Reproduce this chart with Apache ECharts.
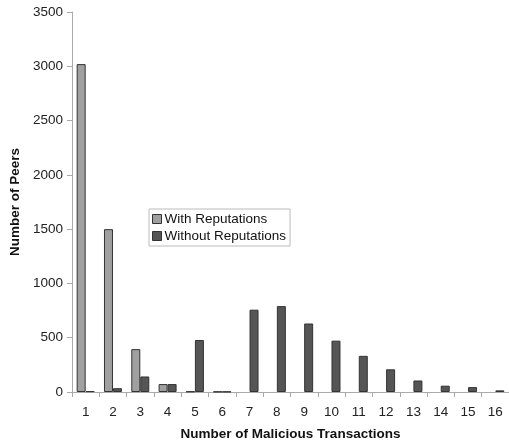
<!DOCTYPE html>
<html>
<head>
<meta charset="utf-8">
<script src="https://cdn.jsdelivr.net/npm/echarts@6/dist/echarts.min.js"></script>
<style>html,body{margin:0;padding:0;background:#fff;}#c{width:509px;height:446px;}</style>
</head>
<body>
<div id="c"></div>
<script>
const categories = ['1','2','3','4','5','6','7','8','9','10','11','12','13','14','15','16'];
const withReputations = [3020, 1500, 395, 73, 5, 3, 0, 0, 0, 0, 0, 0, 0, 0, 0, 0];
const withoutReputations = [8, 35, 143, 73, 479, 3, 758, 791, 631, 473, 333, 209, 106, 58, 45, 15];
const yTicks = { min: 0, max: 3500, interval: 500 };

const font = 'Liberation Sans, Arial, Helvetica, sans-serif';
const hideZero = arr => arr.map(v => (v === 0 ? null : v));
const chart = echarts.init(document.getElementById('c'), null, { renderer: 'canvas' });
chart.setOption({
  animation: false,
  backgroundColor: '#ffffff',
  textStyle: { fontFamily: font },
  grid: { left: 72, right: -4, top: 12, bottom: 50, containLabel: false },
  legend: {
    orient: 'vertical',
    left: 149, top: 209,
    padding: [3, 4, 3, 3],
    itemGap: 3,
    itemWidth: 9, itemHeight: 9,
    icon: 'rect',
    borderColor: '#bbbbbb', borderWidth: 1,
    backgroundColor: '#ffffff',
    textStyle: { fontFamily: font, fontSize: 13.5, color: '#111', padding: [0, 0, 0, -2] },
    itemStyle: { borderColor: '#333', borderWidth: 1 },
    data: ['With Reputations', 'Without Reputations']
  },
  xAxis: {
    type: 'category',
    data: categories,
    name: 'Number of Malicious Transactions',
    nameLocation: 'middle',
    nameGap: 35,
    nameTextStyle: { fontFamily: font, fontSize: 13.5, fontWeight: 'bold', color: '#111' },
    axisLine: { lineStyle: { color: '#aaaaaa', width: 1 } },
    axisTick: { show: true, alignWithLabel: false, length: 5, lineStyle: { color: '#aaaaaa' } },
    axisLabel: { fontFamily: font, fontSize: 13.5, color: '#222', margin: 13 },
    splitLine: { show: false }
  },
  yAxis: {
    type: 'value',
    min: yTicks.min, max: yTicks.max, interval: yTicks.interval,
    name: 'Number of Peers',
    nameLocation: 'middle',
    nameGap: 43,
    nameTextStyle: { fontFamily: font, fontSize: 13.5, fontWeight: 'bold', color: '#111' },
    axisLine: { show: true, lineStyle: { color: '#aaaaaa', width: 1 } },
    axisTick: { show: true, length: 5, lineStyle: { color: '#aaaaaa' } },
    axisLabel: { fontFamily: font, fontSize: 13.5, color: '#222', margin: 9, formatter: v => String(v) },
    splitLine: { show: false }
  },
  series: [
    {
      name: 'With Reputations',
      type: 'bar',
      data: hideZero(withReputations),
      barWidth: 9,
      barGap: '0%',
      itemStyle: { color: '#a0a0a0', borderColor: '#333333', borderWidth: 1 }
    },
    {
      name: 'Without Reputations',
      type: 'bar',
      data: hideZero(withoutReputations),
      barWidth: 9,
      barGap: '0%',
      itemStyle: { color: '#555555', borderColor: '#333333', borderWidth: 1 }
    }
  ]
});
</script>
</body>
</html>
